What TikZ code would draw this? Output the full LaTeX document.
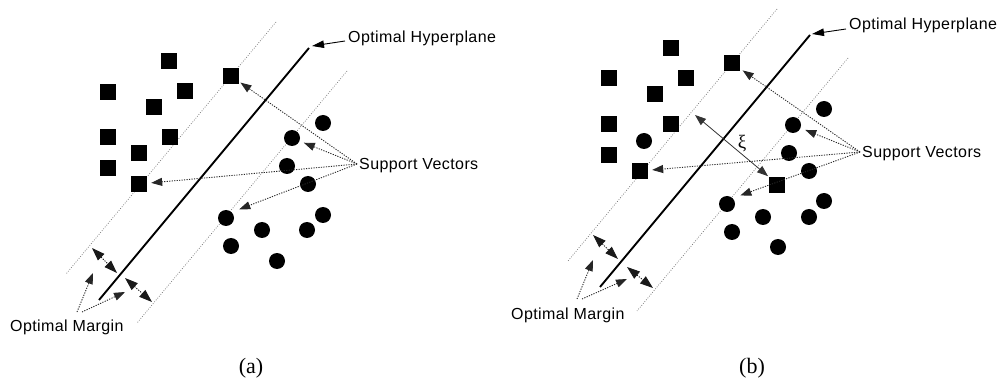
\documentclass[tikz,border=0pt]{standalone}
\usepackage{fontspec}
\usetikzlibrary{arrows.meta}
\newfontfamily\lab[LetterSpace=2.5]{Liberation Sans}
\newfontfamily\capfont{Liberation Serif}
\tikzset{
  sq/.style={rectangle, fill=black, minimum size=16pt, inner sep=0pt},
  dot/.style={circle, fill=black, minimum size=16pt, inner sep=0pt},
  hyper/.style={line width=1.9pt},
  marginline/.style={black!55, line width=0.7pt, dash pattern=on 0.8pt off 1.6pt},
  svarrow/.style={black!85, line width=0.9pt, dash pattern=on 1.2pt off 1.3pt,
    -{Triangle[length=11pt,width=8pt]}},
  marrow/.style={black!90, line width=0.9pt, dash pattern=on 1.2pt off 1.3pt,
    {Triangle[length=13pt,width=9pt]}-{Triangle[length=13pt,width=9pt]}},
  labarrow/.style={line width=0.9pt, -{Triangle[length=12pt,width=7.5pt]}},
  xiarrow/.style={black!80, line width=0.8pt,
    {Triangle[length=11pt,width=8pt]}-{Triangle[length=11pt,width=8pt]}},
  lbl/.style={font=\lab\fontsize{16}{19}\selectfont, inner sep=0pt, text=black},
  subcap/.style={font=\capfont\fontsize{22}{26}\selectfont, inner sep=0pt},
  xilbl/.style={font=\capfont\fontsize{19}{22}\selectfont, inner sep=0pt}
}
\begin{document}
\begin{tikzpicture}[x=1pt,y=-1pt]
\useasboundingbox (0,0) rectangle (1004,382);

% ---------------- panel (a): separable case ----------------
% margin boundaries and the separating hyperplane
\coordinate (aL1) at (276,22);  \coordinate (aL2) at (66,274);
\coordinate (aR1) at (347,71);  \coordinate (aR2) at (137,323);
\coordinate (aH1) at (309,48);  \coordinate (aH2) at (99,300);
\draw[marginline] (aL1) -- (aL2);
\draw[marginline] (aR1) -- (aR2);
\draw[hyper] (aH1) -- (aH2);

% class one (squares)
\node[sq] (a1) at (169,61) {};
\node[sq] (a2) at (231,76) {};
\node[sq] (a3) at (108,92) {};
\node[sq] (a4) at (185,91) {};
\node[sq] (a5) at (154,107) {};
\node[sq] (a6) at (108,137) {};
\node[sq] (a7) at (170,137) {};
\node[sq] (a8) at (139,153) {};
\node[sq] (a9) at (108,168) {};
\node[sq] (a10) at (139,184) {};
% class two (circles)
\node[dot] (ac1) at (323,123) {};
\node[dot] (ac2) at (292,138) {};
\node[dot] (ac3) at (287,166) {};
\node[dot] (ac4) at (308,184) {};
\node[dot] (ac5) at (323,215) {};
\node[dot] (ac6) at (226,218) {};
\node[dot] (ac7) at (262,230) {};
\node[dot] (ac8) at (307,230) {};
\node[dot] (ac9) at (231,246) {};
\node[dot] (ac10) at (277,261) {};

% labels
\node[lbl, anchor=base west] (aoh) at (348,42.5) {Optimal Hyperplane};
\coordinate (aohS) at (345,41);
\coordinate (aohT) at (312,46);
\draw[labarrow] (aohS) -- (aohT);

\node[lbl, anchor=base west] (asv) at (359,170) {Support Vectors};
\coordinate (asvS) at (357,164);
\draw[svarrow, shorten >=1.5pt] (asvS) -- (a2);
\draw[svarrow, shorten >=4.5pt] (asvS) -- (ac2);
\draw[svarrow, shorten >=4pt] (asvS) -- (a10);
\draw[svarrow, shorten >=8pt] (asvS) -- (ac6.north east);

% margin widths
\coordinate (am1a) at (92,248);  \coordinate (am1b) at (117,273);
\coordinate (am2a) at (125,278); \coordinate (am2b) at (152,302);
\draw[marrow] (am1a) -- (am1b);
\draw[marrow] (am2a) -- (am2b);

\node[lbl, anchor=base west] (aom) at (10,331) {Optimal Margin};
\coordinate (aomS1) at (77,312); \coordinate (aomT1) at (93,273);
\coordinate (aomS2) at (82,312); \coordinate (aomT2) at (125,292);
\draw[svarrow] (aomS1) -- (aomT1);
\draw[svarrow] (aomS2) -- (aomT2);

\node[subcap, anchor=base] (capa) at (251,373) {(a)};

% ---------------- panel (b): non-separable case ----------------
\coordinate (bL1) at (777,9);   \coordinate (bL2) at (568,261);
\coordinate (bR1) at (848,58);  \coordinate (bR2) at (637,311);
\coordinate (bH1) at (810,35);  \coordinate (bH2) at (600,287);
\draw[marginline] (bL1) -- (bL2);
\draw[marginline] (bR1) -- (bR2);
\draw[hyper] (bH1) -- (bH2);

\node[sq] (b1) at (671,48) {};
\node[sq] (b2) at (732,63) {};
\node[sq] (b3) at (609,78) {};
\node[sq] (b4) at (686,78) {};
\node[sq] (b5) at (655,94) {};
\node[sq] (b6) at (609,124) {};
\node[sq] (b7) at (671,124) {};
\node[sq] (b8) at (609,155) {};
\node[sq] (b9) at (640,171) {};
\node[sq] (b10) at (777,185) {};

\node[dot] (bc1) at (644,141) {};
\node[dot] (bc2) at (824,109) {};
\node[dot] (bc3) at (793,125) {};
\node[dot] (bc4) at (789,153) {};
\node[dot] (bc5) at (809,171) {};
\node[dot] (bc6) at (824,201) {};
\node[dot] (bc7) at (727,204) {};
\node[dot] (bc8) at (763,217) {};
\node[dot] (bc9) at (809,217) {};
\node[dot] (bc10) at (732,232) {};
\node[dot] (bc11) at (778,247) {};

\node[lbl, anchor=base west] (boh) at (849,30) {Optimal Hyperplane};
\coordinate (bohS) at (846,29);
\coordinate (bohT) at (812,34);
\draw[labarrow] (bohS) -- (bohT);

\node[lbl, anchor=base west] (bsv) at (862,158) {Support Vectors};
\coordinate (bsvS) at (860,152);
\draw[svarrow, shorten >=3pt] (bsvS) -- (b2);
\draw[svarrow, shorten >=5pt] (bsvS) -- (bc3);
\draw[svarrow, shorten >=4pt] (bsvS) -- (b9);
\draw[svarrow, shorten >=8pt] (bsvS) -- (bc7.north east);

% slack distance of the misplaced square
\coordinate (bxi) at (695,115);
\draw[xiarrow, shorten >=1pt] (bxi) -- (b10.north west);
\node[xilbl, anchor=center] (xi) at (742,144) {ξ};

\coordinate (bm1a) at (593,235); \coordinate (bm1b) at (618,259);
\coordinate (bm2a) at (627,267); \coordinate (bm2b) at (653,288);
\draw[marrow] (bm1a) -- (bm1b);
\draw[marrow] (bm2a) -- (bm2b);

\node[lbl, anchor=base west] (bom) at (511,319) {Optimal Margin};
\coordinate (bomS1) at (577,299); \coordinate (bomT1) at (593,260);
\coordinate (bomS2) at (582,299); \coordinate (bomT2) at (627,279);
\draw[svarrow] (bomS1) -- (bomT1);
\draw[svarrow] (bomS2) -- (bomT2);

\node[subcap, anchor=base] (capb) at (752,373) {(b)};
\end{tikzpicture}
\end{document}
